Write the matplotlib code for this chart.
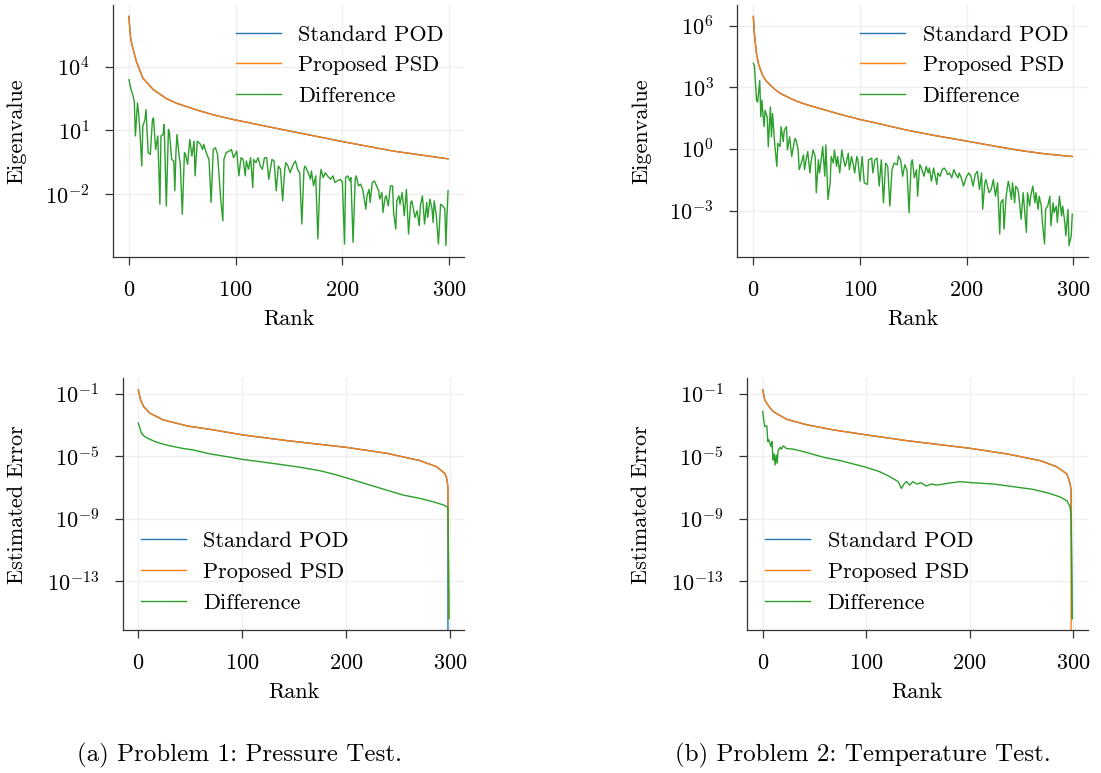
import numpy as np
import matplotlib
matplotlib.use("Agg")
import matplotlib.pyplot as plt
from matplotlib.ticker import FixedLocator, NullLocator

plt.rcParams['font.family'] = 'serif'
plt.rcParams['font.serif'] = ['cmr10']
plt.rcParams['mathtext.fontset'] = 'cm'
plt.rcParams['axes.formatter.use_mathtext'] = True
plt.rcParams['font.size'] = 16

# ---- datos (valores en log10) ----
# Problema 1: autovalores
eig1_rank = [0, 1, 2, 4, 7, 13, 23, 35, 45, 63, 80, 99, 138, 170, 201, 248, 299]
eig1_log = [6.35, 5.6, 5.2, 4.78, 4.23, 3.46, 2.91, 2.50, 2.27, 1.97, 1.72, 1.50, 1.10, 0.78, 0.47, 0.03, -0.33]

diff1_rank = [0, 2, 4, 5, 6, 8, 9, 10, 12, 13, 15, 16, 18, 20, 22, 23, 25, 27, 29, 30,
              32, 33, 35, 37, 38, 40, 42, 43, 44, 45, 47, 48, 50, 52, 53, 55, 57, 59, 61, 62,
              64, 67, 69, 70, 73, 75, 77, 79, 81, 83, 86, 88, 89, 91, 94, 96, 98, 101, 103, 105,
              107, 109, 110, 112, 114, 116, 117, 119, 121, 123, 125, 127, 129, 131, 133, 134, 136, 138, 140, 142,
              144, 146, 147, 149, 151, 154, 156, 158, 160, 162, 164, 165, 168, 170, 171, 173, 175, 177, 179, 180,
              182, 184, 186, 189, 191, 193, 195, 198, 200, 202, 203, 205, 207, 208, 210, 212, 213, 215, 217, 219,
              220, 222, 223, 225, 226, 228, 230, 232, 234, 235, 237, 238, 240, 241, 243, 245, 247, 248, 250, 251,
              253, 254, 256, 258, 260, 262, 264, 265, 266, 268, 270, 272, 273, 275, 277, 279, 280, 282, 284, 285,
              286, 288, 290, 292, 294, 296, 297, 298, 299]
diff1_log = [3.38, 2.91, 2.60, 2.37, 0.74, 2.29, 1.83, 1.20, -0.67, 1.20, 1.51, 1.98, -0.04, -0.12, 1.51, 1.59, 0.11, 0.74, -2.46, 0.74,
             0.81, 1.28, -2.54, 1.05, 0.89, -0.36, -0.43, -1.83, -0.04, 0.81, -0.20, -0.51, -2.93, -0.04, -0.12, -0.59, 0.58, -0.20, 0.50, -1.13,
             0.50, 0.35, 0.11, 0.35, -0.12, -0.36, -2.38, 0.11, 0.19, -0.12, -2.22, -3.24, -0.36, -0.04, 0.03, 0.11, -0.28, 0.03, -1.13, -0.28,
             -0.36, -1.13, -0.43, -0.82, -0.28, -1.68, -0.36, -0.51, -0.28, -0.67, -0.82, -0.28, -0.28, -1.29, -0.67, -0.36, -0.43, -1.83, -0.67, -0.82,
             -2.30, -0.82, -0.51, -0.67, -0.98, -0.59, -0.43, -0.82, -0.98, -3.39, -0.82, -0.67, -0.98, -1.29, -0.90, -1.60, -1.13, -4.09, -1.29, -0.82,
             -1.21, -0.98, -1.13, -1.29, -1.13, -1.44, -1.37, -1.29, -1.44, -4.33, -1.21, -1.13, -1.37, -1.21, -4.25, -1.29, -1.13, -1.60, -1.52, -1.76,
             -2.07, -2.69, -2.07, -1.76, -2.38, -1.44, -1.37, -1.60, -1.83, -2.22, -1.91, -2.85, -2.15, -2.07, -2.54, -1.60, -1.60, -2.85, -3.63, -2.30,
             -2.07, -2.46, -1.91, -3.00, -1.76, -3.86, -2.38, -2.30, -2.54, -3.08, -2.77, -3.47, -2.54, -2.07, -3.39, -2.38, -3.08, -2.22, -2.69, -3.32,
             -2.30, -3.00, -4.33, -2.46, -2.54, -2.69, -4.40, -3.00, -1.83]

# Problema 2: autovalores
eig2_rank = [0, 1, 2, 3, 5, 7, 9, 12, 16, 20, 25, 33, 41, 50, 66, 80, 100, 120, 144, 170, 200, 230, 253, 275, 299]
eig2_log = [6.44, 5.6, 5.1, 4.6, 4.1, 3.8, 3.55, 3.3, 3.1, 2.9, 2.71, 2.5, 2.31, 2.15, 1.91, 1.70, 1.43, 1.20, 0.91, 0.65, 0.38, 0.10, -0.10, -0.25, -0.37]

diff2_rank = [0, 1, 3, 4, 6, 7, 8, 10, 11, 13, 14, 16, 17, 18, 20, 22, 23, 25, 26, 28,
              29, 31, 32, 34, 36, 37, 39, 40, 42, 43, 45, 47, 48, 50, 51, 53, 54, 56, 58, 59,
              61, 62, 64, 65, 67, 68, 70, 72, 73, 75, 76, 78, 79, 81, 83, 84, 86, 87, 89, 90,
              92, 94, 95, 97, 98, 100, 102, 104, 107, 108, 111, 112, 114, 116, 118, 120, 122, 124, 126, 128,
              130, 132, 135, 136, 138, 140, 142, 144, 146, 148, 149, 151, 153, 154, 156, 157, 160, 162, 164, 165,
              167, 169, 172, 173, 175, 177, 179, 181, 182, 184, 186, 188, 190, 192, 193, 195, 197, 200, 202, 204,
              206, 208, 210, 212, 214, 215, 217, 218, 221, 223, 225, 227, 229, 231, 232, 234, 235, 237, 239, 240,
              242, 243, 245, 246, 248, 249, 251, 253, 254, 256, 257, 259, 260, 262, 264, 265, 267, 268, 270, 271,
              273, 274, 276, 278, 279, 281, 282, 284, 285, 287, 289, 290, 292, 293, 295, 296, 298, 299]
diff2_log = [4.16, 4.04, 2.36, 2.28, 3.32, 1.56, 2.36, 1.08, 1.88, 1.56, 0.11, 2.04, 0.59, 1.72, 0.27, -0.85, 0.27, 0.11, 1.08, 0.35,
             0.91, 1.08, -0.05, 0.59, -0.37, -0.05, 0.51, 0.43, -0.05, -1.01, -0.69, -0.29, -1.01, -0.37, -0.13, -1.17, -0.69, -0.05, -0.37, -2.13,
             -0.53, -1.17, -0.37, 0.11, -1.33, 0.19, -2.46, -1.65, -0.37, -0.69, -0.05, -0.85, -0.37, -1.17, -0.05, -0.37, -0.85, -0.69, -0.21, -1.01,
             -0.37, -0.85, -1.17, -0.37, -0.53, -1.57, -0.37, -1.65, -1.73, -0.53, -0.45, -1.17, -0.53, -0.45, -1.81, -0.53, -2.62, -0.69, -0.85, -2.78,
             -1.01, -0.69, -0.77, -0.34, -0.53, -1.33, -0.77, -1.01, -3.10, -0.69, -0.53, -1.41, -1.01, -2.30, -0.77, -0.85, -1.33, -0.85, -1.17, -0.93,
             -1.57, -0.93, -1.73, -1.17, -1.33, -1.01, -0.93, -1.09, -1.25, -1.17, -1.41, -1.01, -1.25, -1.41, -1.17, -1.41, -1.81, -1.33, -1.17, -1.33,
             -1.81, -1.25, -1.09, -1.97, -1.17, -2.94, -1.65, -1.49, -2.13, -1.97, -1.49, -2.30, -1.65, -4.14, -2.62, -2.46, -3.90, -2.30, -1.57, -1.81,
             -2.46, -1.65, -2.62, -1.81, -1.97, -2.30, -3.42, -2.13, -2.78, -4.06, -2.13, -2.78, -2.30, -1.81, -2.62, -2.13, -2.94, -2.30, -2.78, -3.58,
             -4.62, -2.94, -2.78, -2.30, -3.74, -2.62, -3.10, -2.78, -3.58, -2.30, -3.26, -2.78, -3.58, -4.22, -2.94, -4.70, -4.22, -3.18]

# Problema 1: error estimado
err1_rank = [0, 2, 5, 11, 24, 47, 72, 100, 143, 200, 239, 271, 287, 295, 297, 298, 299]
psd_err1_log = [-0.74, -1.35, -1.81, -2.24, -2.67, -3.06, -3.31, -3.63, -4.00, -4.43, -4.81, -5.28, -5.67, -6.10, -6.45, -7.0, -15.4]
pod_err1_log = [-0.74, -1.35, -1.81, -2.24, -2.67, -3.06, -3.31, -3.63, -4.00, -4.43, -4.81, -5.28, -5.67, -6.10, -6.45, -7.0, -np.inf]
diff_err1_rank = [0, 2, 3, 6, 11, 16, 23, 31, 42, 53, 69, 89, 100, 117, 136, 156, 175, 191, 207, 223,
                  239, 255, 271, 284, 294, 298, 299]
diff_err1_log = [-2.88, -3.31, -3.53, -3.74, -3.91, -4.06, -4.21, -4.34, -4.49, -4.60, -4.85, -5.07, -5.20, -5.35, -5.52, -5.71, -5.93, -6.20, -6.52, -6.85,
                 -7.17, -7.49, -7.70, -7.92, -8.13, -8.28, -15.4]

# Problema 2: error estimado
err2_rank = [0, 2, 6, 10, 23, 43, 68, 100, 139, 200, 236, 268, 284, 294, 297, 298, 299]
pod_err2_log = [-0.74, -1.39, -1.81, -2.13, -2.63, -2.99, -3.31, -3.63, -4.00, -4.49, -4.85, -5.28, -5.67, -6.14, -6.74, -7.2, -15.4]
psd_err2_log = [-0.74, -1.39, -1.81, -2.13, -2.63, -2.99, -3.31, -3.63, -4.00, -4.49, -4.85, -5.28, -5.67, -6.14, -6.74, -7.2, -np.inf]
diff_err2_rank = [0, 1, 2, 4, 5, 6, 8, 9, 10, 11, 12, 13, 14, 15, 17, 18, 20, 23, 30, 43,
                  59, 75, 100, 113, 123, 131, 134, 137, 139, 142, 145, 149, 153, 158, 163, 168, 178, 191, 203, 223,
                  242, 261, 277, 287, 294, 297, 298, 299]
diff_err2_log = [-2.13, -2.67, -3.10, -3.06, -4.06, -3.96, -4.38, -4.06, -5.24, -4.85, -5.56, -4.92, -5.45, -4.60, -4.43, -4.55, -4.34, -4.51, -4.55, -4.77,
                 -5.07, -5.28, -5.71, -5.99, -6.31, -6.63, -7.06, -6.74, -6.63, -6.85, -6.63, -6.78, -6.70, -6.91, -6.78, -6.85, -6.74, -6.63, -6.70, -6.78,
                 -6.95, -7.12, -7.38, -7.60, -7.85, -8.24, -8.88, -15.4]

labels = ['Standard POD', 'Proposed PSD', 'Difference']
captions = ['(a) Problem 1: Pressure Test.', '(b) Problem 2: Temperature Test.']


def estilo(ax, yticks_exp, ylabel, xlab):
    ax.set_yscale('log')
    for s in ['top', 'right']:
        ax.spines[s].set_visible(False)
    for s in ['left', 'bottom']:
        ax.spines[s].set_color('#333333')
        ax.spines[s].set_linewidth(0.9)
    ax.tick_params(colors='#333333', labelcolor='black', length=6, width=0.9, pad=11)
    ax.grid(True, color='#efefef', linewidth=1.0)
    ax.set_axisbelow(True)
    ax.yaxis.set_major_locator(FixedLocator([10.0 ** e for e in yticks_exp]))
    ax.yaxis.set_minor_locator(NullLocator())
    ax.set_xticks([0, 100, 200, 300])
    ax.set_xlabel('Rank', labelpad=7)
    ax.set_ylabel(ylabel)
    # la coordenada marca el borde derecho de la etiqueta girada
    ax.yaxis.set_label_coords(xlab, 0.5)


def dibujar(ax, r_pod, pod, r_psd, psd, r_dif, dif):
    ax.plot(r_pod, 10.0 ** np.array(pod), color='C0', lw=1.0, label=labels[0])
    ax.plot(r_psd, 10.0 ** np.array(psd), color='C1', lw=1.0, label=labels[1])
    ax.plot(r_dif, 10.0 ** np.array(dif), color='C2', lw=1.0, label=labels[2])


W, H = 1101, 773
fig = plt.figure(figsize=(W / 100, H / 100), dpi=100)


def caja(l, r, t, b):
    return [l / W, (H - b) / H, (r - l) / W, (b - t) / H]


ax1 = fig.add_axes(caja(113, 464, 5, 257))
ax2 = fig.add_axes(caja(737.4, 1088.2, 5, 257))
ax3 = fig.add_axes(caja(122.8, 464.5, 378.3, 630))
ax4 = fig.add_axes(caja(747.2, 1087.6, 378.3, 630))

dibujar(ax1, eig1_rank, eig1_log, eig1_rank, eig1_log, diff1_rank, diff1_log)
dibujar(ax2, eig2_rank, eig2_log, eig2_rank, eig2_log, diff2_rank, diff2_log)
dibujar(ax3, err1_rank, pod_err1_log, err1_rank, psd_err1_log, diff_err1_rank, diff_err1_log)
dibujar(ax4, err2_rank, pod_err2_log, err2_rank, psd_err2_log, diff_err2_rank, diff_err2_log)

estilo(ax1, [4, 1, -2], 'Eigenvalue', -0.246)
estilo(ax2, [6, 3, 0, -3], 'Eigenvalue', -0.246)
estilo(ax3, [-1, -5, -9, -13], 'Estimated Error', -0.281)
estilo(ax4, [-1, -5, -9, -13], 'Estimated Error', -0.283)

for ax in [ax1, ax2]:
    ax.legend(loc='upper right', frameon=False)
for ax in [ax3, ax4]:
    ax.legend(loc='lower left', frameon=False, bbox_to_anchor=(-0.005, -0.01))

fig.text(239 / W, 1 - 755 / H, captions[0], ha='center', va='center', fontsize=18)
fig.text(863 / W, 1 - 755 / H, captions[1], ha='center', va='center', fontsize=18)

fig.savefig('out.png', dpi=100)
